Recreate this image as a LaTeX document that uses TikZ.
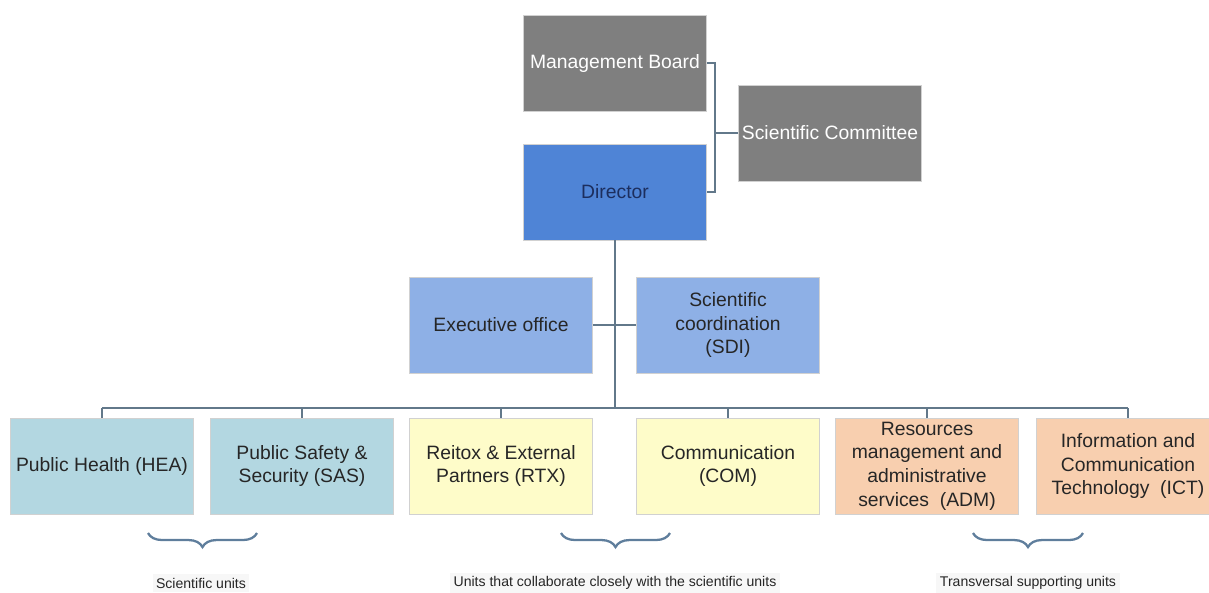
\documentclass[tikz,border=0pt]{standalone}
\usepackage{fontspec}
\setmainfont{Liberation Sans}
\usetikzlibrary{decorations.pathreplacing}
\definecolor{boardgrey}{HTML}{7F7F7F}
\definecolor{dirblue}{HTML}{4F84D6}
\definecolor{dirtext}{HTML}{1C2E5E}
\definecolor{offblue}{HTML}{8EB0E6}
\definecolor{sciteal}{HTML}{B3D7E1}
\definecolor{collyellow}{HTML}{FEFCC9}
\definecolor{suppeach}{HTML}{F8CFAF}
\definecolor{linkgrey}{HTML}{62788A}
\definecolor{bracecol}{HTML}{5F7E9C}
\tikzset{
  unit/.style={minimum width=3.66cm, minimum height=1.92cm, inner sep=2pt,
    align=center, font=\fontsize{11}{13.5}\selectfont, text=black!85, draw=black!18},
  link/.style={draw=linkgrey, line width=0.6pt},
  grp/.style={decorate, decoration={brace, mirror, amplitude=8pt}, draw=bracecol, line width=1.3pt},
  grplabel/.style={font=\fontsize{8}{10}\selectfont, text=black!85, fill=black!3, inner sep=2pt}
}
\begin{document}
\begin{tikzpicture}[x=0.2mm,y=-0.2mm]
  \useasboundingbox (0,0) rectangle (1209,592);
  % top of the chart
  \node[unit, fill=boardgrey, text=white] (mb) at (615,63) {Management Board};
  \node[unit, fill=boardgrey, text=white] (sc) at (830,133) {Scientific Committee};
  \node[unit, fill=dirblue, text=dirtext] (dir) at (615,192) {Director};
  \node[unit, fill=offblue] (exo) at (501,325) {Executive office};
  \node[unit, fill=offblue] (sdi) at (728,325) {Scientific\\coordination\\(SDI)};
  % units
  \node[unit, fill=sciteal] (hea) at (102,466) {Public Health (HEA)};
  \node[unit, fill=sciteal] (sas) at (302,466) {Public Safety \&\\Security (SAS)};
  \node[unit, fill=collyellow] (rtx) at (501,466) {Reitox \& External\\Partners (RTX)};
  \node[unit, fill=collyellow] (com) at (728,466) {Communication\\(COM)};
  \node[unit, fill=suppeach] (adm) at (927,466) {Resources\\management and\\administrative\\services~ (ADM)};
  \node[unit, fill=suppeach] (ict) at (1128,466) {Information and\\Communication\\Technology~ (ICT)};
  % connectors
  \coordinate (knee) at (715,133);
  \coordinate (bus) at (615,408);
  \draw[link] (mb.east) -| (knee) |- (dir.east);
  \draw[link] (knee) -- (sc.west);
  \draw[link] (dir.south) -- (bus);
  \draw[link] (exo.east) -- (sdi.west);
  \draw[link] (hea.north |- bus) -- (ict.north |- bus);
  \foreach \u in {hea,sas,rtx,com,adm,ict}
    \draw[link] (\u.north |- bus) -- (\u.north);
  % groups
  \coordinate (g1a) at (148,533); \coordinate (g1b) at (257,533);
  \coordinate (g2a) at (561,533); \coordinate (g2b) at (670,533);
  \coordinate (g3a) at (973,533); \coordinate (g3b) at (1083,533);
  \draw[grp] (g1a) -- (g1b);
  \draw[grp] (g2a) -- (g2b);
  \draw[grp] (g3a) -- (g3b);
  \node[grplabel] (sciunits) at (201,583) {Scientific units};
  \node[grplabel] (collunits) at (615,583) {Units that collaborate closely with the scientific units};
  \node[grplabel] (suppunits) at (1028,583) {Transversal supporting units};
\end{tikzpicture}
\end{document}
